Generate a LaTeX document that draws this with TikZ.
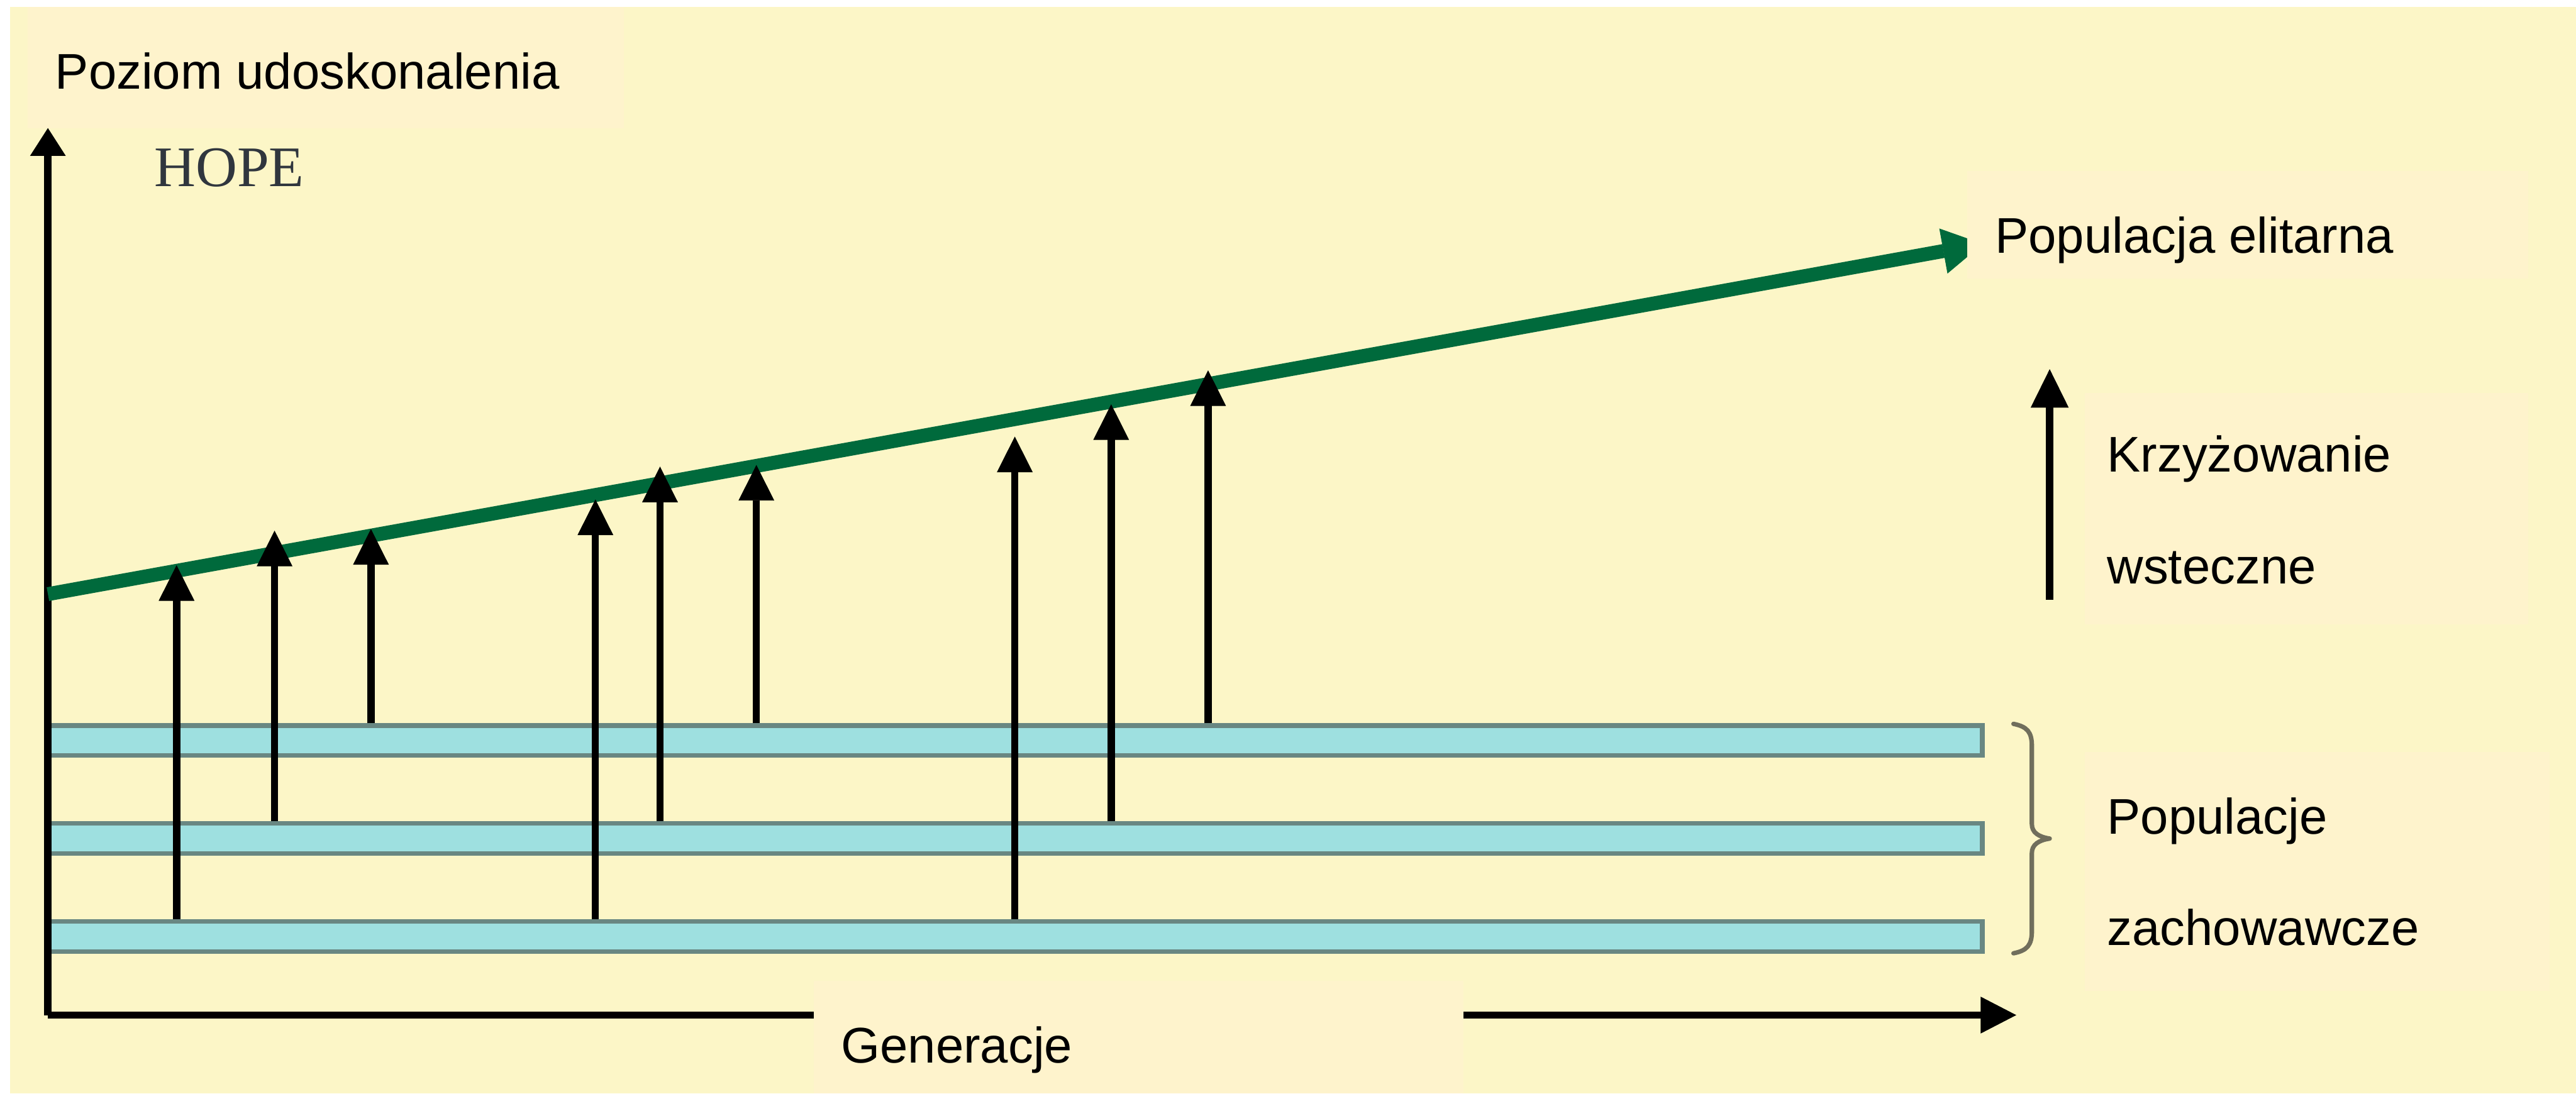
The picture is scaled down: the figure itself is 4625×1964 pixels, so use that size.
\documentclass[tikz,border=0pt]{standalone}
\usepackage{fontspec}
\setmainfont{Liberation Sans}
\newfontfamily\hopefont{Liberation Serif}
\usetikzlibrary{arrows.meta}
\definecolor{bgy}{RGB}{252,246,199}
\definecolor{boxy}{RGB}{254,243,204}
\definecolor{barfill}{RGB}{158,224,224}
\definecolor{barline}{RGB}{105,135,130}
\definecolor{elite}{RGB}{0,106,60}
\definecolor{bracecol}{RGB}{112,110,92}
\definecolor{hopecol}{RGB}{48,54,62}
\begin{document}
\begin{tikzpicture}[x=1pt,y=-1pt,
  lbl/.style={anchor=base west, inner sep=0pt, font=\fontsize{90}{100}\selectfont},
  labelbox/.style={fill=boxy, draw=none},
  popbar/.style={rectangle, draw=barline, fill=barfill, line width=8pt, inner sep=0pt,
    minimum width=3473pt, minimum height=54pt},
  cross/.style={line width=13pt, black, -{Triangle[length=64pt,width=64pt,line width=1pt]}},
  axisline/.style={line width=13pt, black},
  elitearrow/.style={line width=25pt, elite, -{Triangle[length=72pt,width=82pt,line width=1pt]}},
  bracestyle/.style={line width=8pt, bracecol, line cap=round, line join=round}]
\useasboundingbox (0,0) rectangle (4625,1964);
% background
\fill[white] (0,0) rectangle (4625,1964);
\fill[bgy] (18,12) rectangle (4625,1964);
% label boxes (except those that cover lines)
\fill[labelbox] (50,12) rectangle (1120,230);
\fill[labelbox] (3743,706) rectangle (4539,1121);
\fill[labelbox] (3743,1351) rectangle (4578,1780);
% population bars
\node[popbar] (bar1) at (1822.5,1330) {};
\node[popbar] (bar2) at (1822.5,1506) {};
\node[popbar] (bar3) at (1822.5,1682) {};
% axes
\coordinate (origin) at (86,1823);
\coordinate (ytop) at (86,230);
\coordinate (xend) at (3620,1823);
\draw[axisline, -{Triangle[length=50pt,width=64pt,line width=1pt]}] (origin) -- (ytop);
\draw[axisline, -{Triangle[length=64pt,width=66pt,line width=1pt]}] (origin) -- (xend);
% elite population line
\coordinate (g0) at (86,1067);
\coordinate (g1) at (3560,438);
\draw[elitearrow] (g0) -- (g1);
% back-crossing arrows
\coordinate (a1) at (317,1015);
\coordinate (a2) at (493,953);
\coordinate (a3) at (666,950);
\coordinate (a4) at (1069,897);
\coordinate (a5) at (1185,838);
\coordinate (a6) at (1358,835);
\coordinate (a7) at (1822,784);
\coordinate (a8) at (1995,726);
\coordinate (a9) at (2169,665);
\draw[cross] (bar3.north -| a1) -- (a1);
\draw[cross] (bar2.north -| a2) -- (a2);
\draw[cross] (bar1.north -| a3) -- (a3);
\draw[cross] (bar3.north -| a4) -- (a4);
\draw[cross] (bar2.north -| a5) -- (a5);
\draw[cross] (bar1.north -| a6) -- (a6);
\draw[cross] (bar3.north -| a7) -- (a7);
\draw[cross] (bar2.north -| a8) -- (a8);
\draw[cross] (bar1.north -| a9) -- (a9);
% legend arrow
\coordinate (kw0) at (3680,1077);
\coordinate (kw1) at (3680,663);
\draw[cross, -{Triangle[length=69pt,width=68pt,line width=1pt]}] (kw0) -- (kw1);
% boxes that cover lines
\fill[labelbox] (3532,307) rectangle (4539,500);
\fill[labelbox] (1461,1762) rectangle (2628,1964);
% brace
\draw[bracestyle] (3615,1300) .. controls (3640,1305) and (3648,1315) .. (3648,1340)
  -- (3648,1480) .. controls (3648,1495) and (3660,1503) .. (3680,1506)
  .. controls (3660,1509) and (3648,1517) .. (3648,1532)
  -- (3648,1672) .. controls (3648,1697) and (3640,1707) .. (3615,1712);
% texts
\node[lbl] (ylabel) at (99,160) {Poziom udoskonalenia};
\node[anchor=base west, inner sep=0pt, font=\hopefont\fontsize{103}{110}\selectfont, text=hopecol] (hope) at (277,335) {HOPE};
\node[lbl] (elit) at (3582,454) {Populacja elitarna};
\node[lbl] (kwa) at (3783,847) {Krzyżowanie};
\node[lbl] (kwb) at (3783,1048) {wsteczne};
\node[lbl] (pza) at (3783,1498) {Populacje};
\node[lbl] (pzb) at (3783,1698) {zachowawcze};
\node[lbl] (gen) at (1510,1909) {Generacje};
\end{tikzpicture}
\end{document}
